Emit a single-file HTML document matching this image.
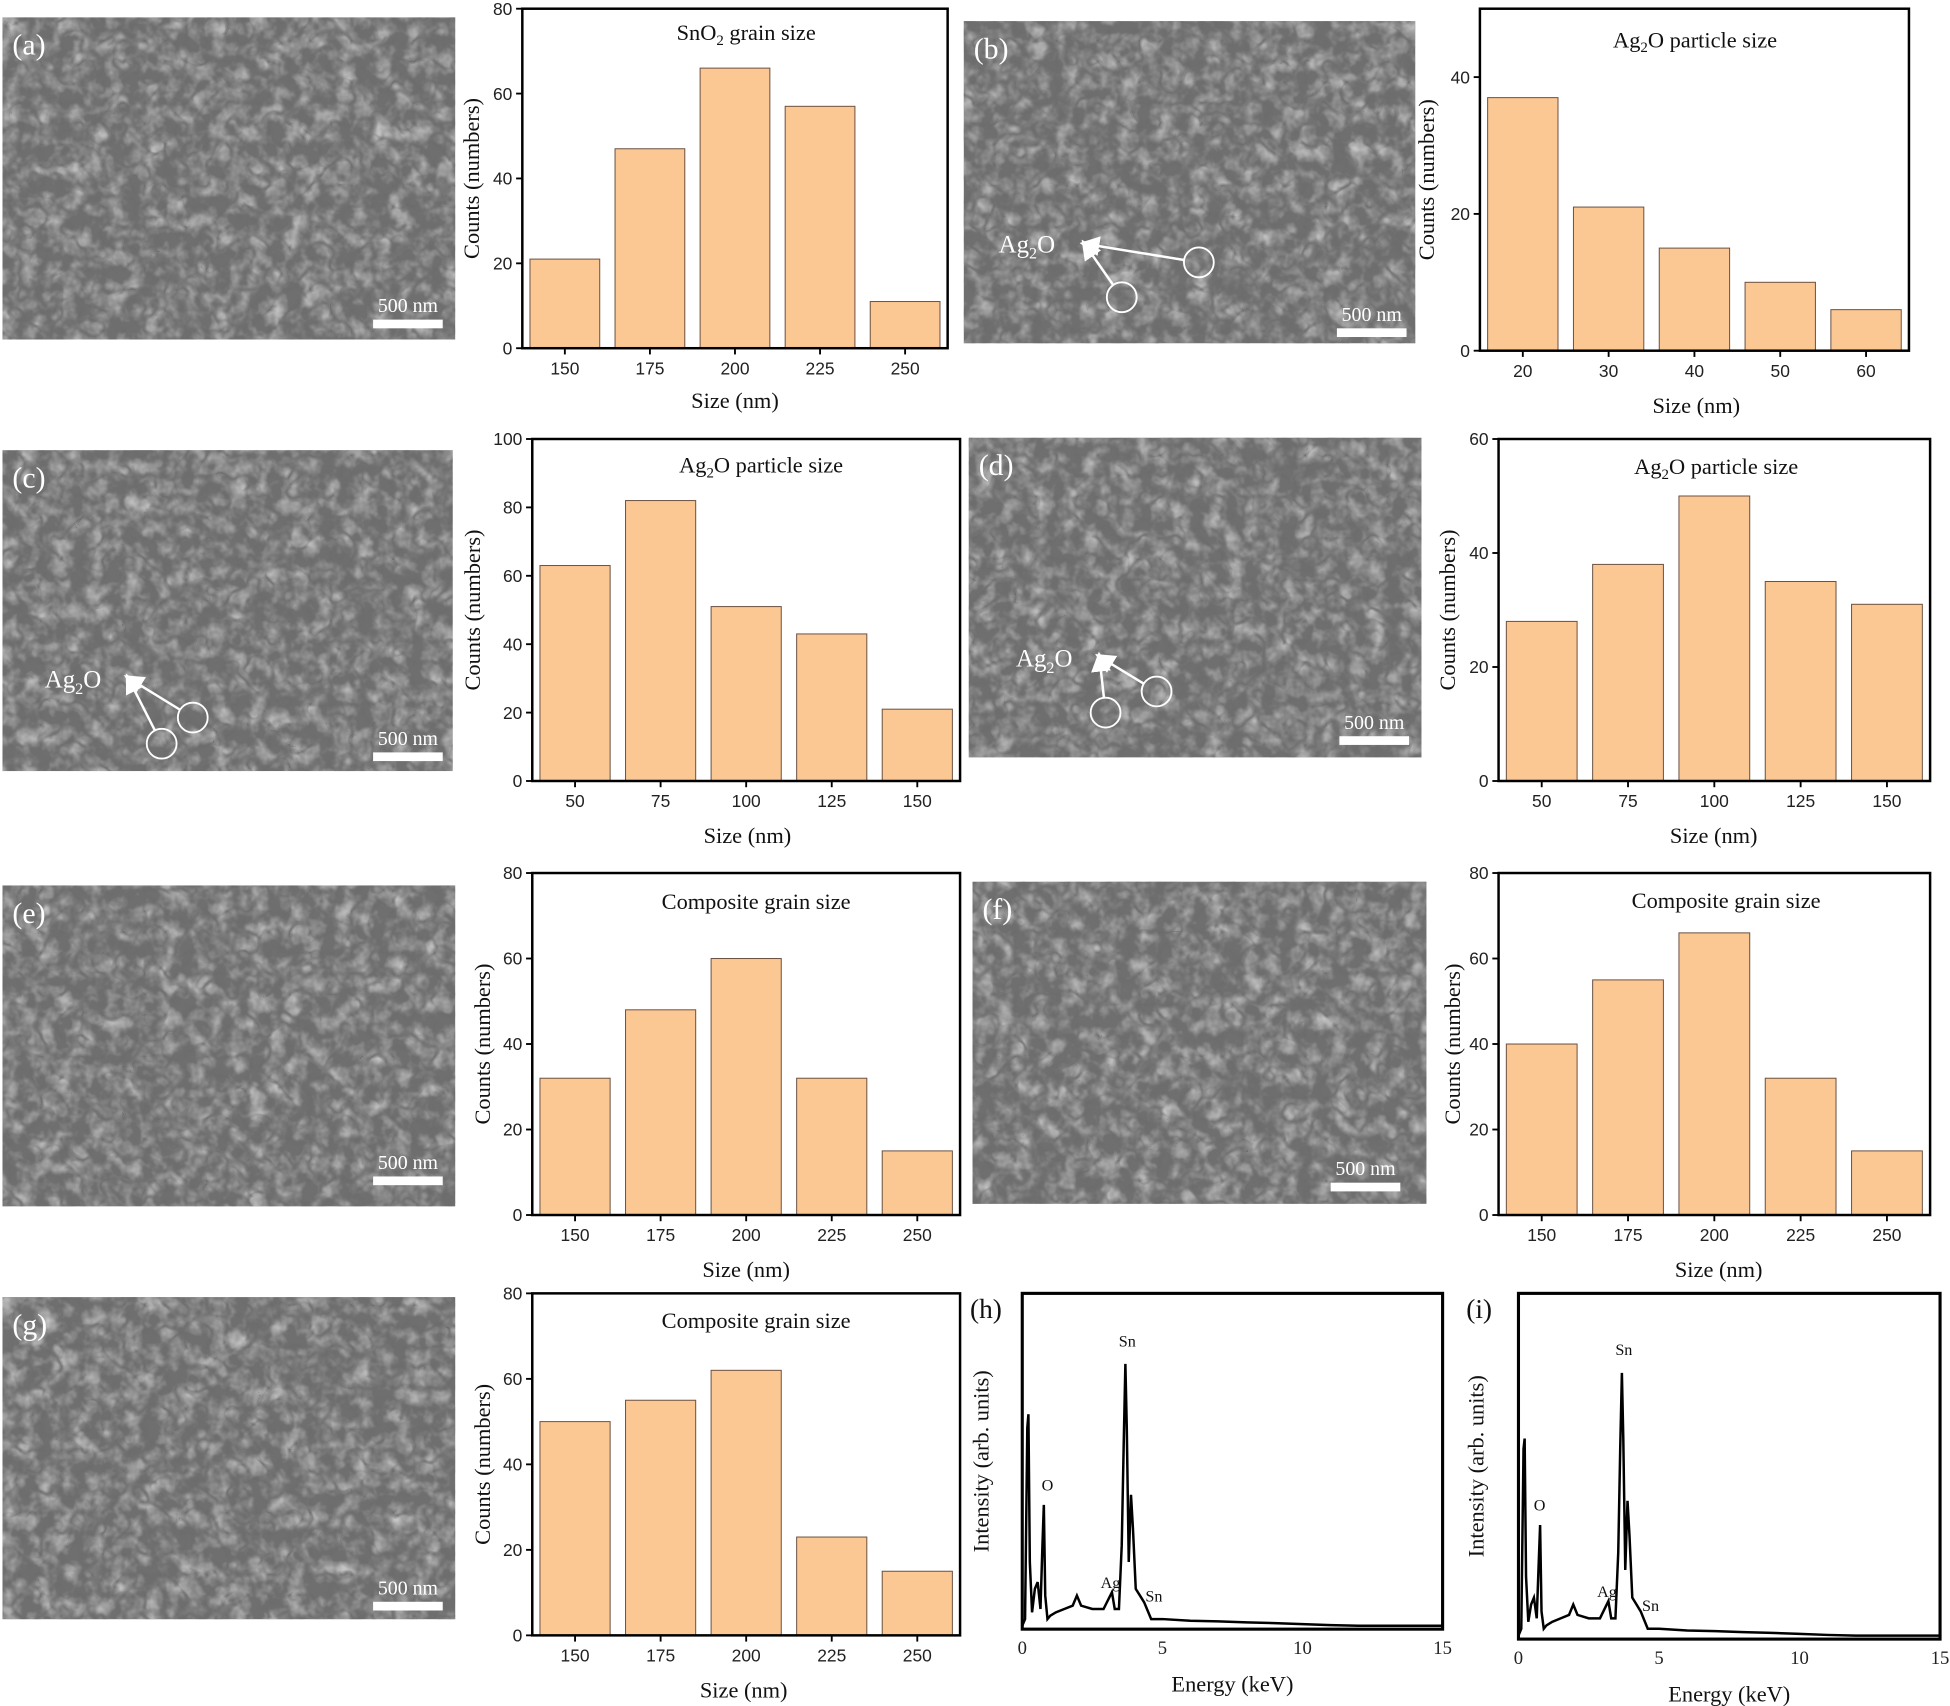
<!DOCTYPE html>
<html><head><meta charset="utf-8"><style>
html,body{margin:0;padding:0;background:#fff;}
svg{display:block;}
.tk{font-family:"Liberation Sans",sans-serif;font-size:14px;fill:#222;}
.lb{font-family:"Liberation Serif",serif;font-size:18px;fill:#111;}
.sem{font-family:"Liberation Serif",serif;fill:#fff;}
</style></head><body>
<svg id="fig" width="1950" height="1706" viewBox="0 0 1568 1371.8" xmlns="http://www.w3.org/2000/svg">
<defs>
<filter id="grain" x="0" y="0" width="100%" height="100%">
<feTurbulence type="fractalNoise" baseFrequency="0.07" numOctaves="3" seed="3" result="n"/>
<feColorMatrix type="matrix" values="0 0 0 0 0.55  0 0 0 0 0.55  0 0 0 0 0.55  1.8 0 0 0 -0.65" in="n" result="m"/>
<feComposite in="m" in2="SourceGraphic" operator="in"/>
</filter>
<filter id="dark" x="0" y="0" width="100%" height="100%">
<feTurbulence type="turbulence" baseFrequency="0.06" numOctaves="2" seed="7" result="n"/>
<feColorMatrix type="matrix" values="0 0 0 0 0.15  0 0 0 0 0.15  0 0 0 0 0.15  -3 0 0 0 0.9" in="n" result="m"/>
<feComposite in="m" in2="SourceGraphic" operator="in"/>
</filter>
<marker id="ah" markerWidth="8" markerHeight="8" refX="6" refY="4" orient="auto"><path d="M0,0 L8,4 L0,8 z" fill="#fff"/></marker>
</defs>
<g id="root"></g>
</svg>
<script>
const NS="http://www.w3.org/2000/svg";
const root=document.getElementById('root');
function mk(tag,attrs,parent,text){const e=document.createElementNS(NS,tag);for(const k in attrs)e.setAttribute(k,attrs[k]);if(text!==undefined)e.textContent=text;(parent||root).appendChild(e);return e;}

// ---- histogram data ----
const catsA=["150","175","200","225","250"]; const valsA=[21,47,66,57,11]; const ticksA=[0,20,40,60,80];
const catsB=["20","30","40","50","60"]; const valsB=[37,21,15,10,6]; const ticksB=[0,20,40];
const catsC=["50","75","100","125","150"]; const valsC=[63,82,51,43,21]; const ticksC=[0,20,40,60,80,100];
const catsD=["50","75","100","125","150"]; const valsD=[28,38,50,35,31]; const ticksD=[0,20,40,60];
const catsE=["150","175","200","225","250"]; const valsE=[32,48,60,32,15]; const ticksE=[0,20,40,60,80];
const catsF=["150","175","200","225","250"]; const valsF=[40,55,66,32,15]; const ticksF=[0,20,40,60,80];
const catsG=["150","175","200","225","250"]; const valsG=[50,55,62,23,15]; const ticksG=[0,20,40,60,80];
// ---- EDS spectra data (energy keV, intensity %) ----
const energyH=[0,0.1,0.18,0.22,0.27,0.35,0.45,0.55,0.65,0.72,0.77,0.82,0.9,1.0,1.2,1.5,1.8,1.95,2.1,2.5,2.9,3.2,3.3,3.45,3.55,3.62,3.68,3.73,3.8,3.88,3.95,4.05,4.2,4.35,4.45,4.6,5,6,7,8,9,10,11,12,13,15];
const intensityH=[1,3,60,64,20,5,12,14,6,25,37,10,3,4,5,6,7,10,7,6,6,11,6,6,25,55,79,60,20,40,30,12,10,8,6,3,3,2.5,2.3,2,1.8,1.5,1.2,1,1,1];
const energyI=[0,0.1,0.18,0.22,0.27,0.35,0.45,0.55,0.65,0.72,0.77,0.82,0.9,1.0,1.2,1.5,1.8,1.95,2.1,2.5,2.9,3.2,3.3,3.45,3.55,3.62,3.68,3.73,3.8,3.88,3.95,4.05,4.2,4.35,4.45,4.6,5,6,7,8,9,10,11,12,13,15];
const intensityI=[1,3,55,58,18,5,10,12,6,22,33,8,3,4,5,6,7,10,7,6,6,11,6,6,25,55,77,58,20,40,30,12,10,8,6,3,3,2.5,2.3,2,1.8,1.5,1.2,1,1,1];

function hist(id,x0,x1,y0,y1,ymax,cats,vals,ticks,title,titleSub,titleX,titleY,xlabX,xlabY,ylabX){
  const g=mk('g',{});
  
  
  const n=cats.length, step=(x1-x0)/n, bw=step*0.82;
  const sx=i=>x0+step*(i+0.5);
  const sy=v=>y1-(y1-y0)*v/ymax;
  vals.forEach((v,i)=>{
    const r=mk('rect',{x:sx(i)-bw/2,y:sy(v),width:bw,height:y1-sy(v),fill:'#fbc793',stroke:'#6b5040','stroke-width':0.8},g);
    
    
  });
  const f=mk('rect',{x:x0,y:y0,width:x1-x0,height:y1-y0,fill:'none',stroke:'#000','stroke-width':2},g);
  
  
  ticks.forEach(t=>{
    mk('line',{x1:x0-5,x2:x0,y1:sy(t),y2:sy(t),stroke:'#000','stroke-width':1.5},g);
    const tl=mk('text',{x:x0-8,y:sy(t)+5,'text-anchor':'end',class:'tk'},g,String(t));
    
    
  });
  cats.forEach((c,i)=>{
    mk('line',{x1:sx(i),x2:sx(i),y1:y1,y2:y1+5,stroke:'#000','stroke-width':1.5},g);
    const tl=mk('text',{x:sx(i),y:y1+21,'text-anchor':'middle',class:'tk'},g,c);
    
    
  });
  const t=mk('text',{x:titleX,y:titleY,'text-anchor':'middle',class:'lb'},g);
  
  
  t.innerHTML=title[0]+'<tspan font-size="12" dy="4">'+titleSub+'</tspan><tspan dy="-4">'+title[1]+'</tspan>';
  const xl=mk('text',{x:xlabX,y:xlabY,'text-anchor':'middle',class:'lb'},g,'Size (nm)');
  
  
  const yc=(y0+y1)/2;
  const yl=mk('text',{x:ylabX,y:yc,'text-anchor':'middle',class:'lb',transform:'rotate(-90 '+ylabX+' '+yc+')'},g,'Counts (numbers)');
  
  
}
function sem(id,x,y,w,h,label,sbX,sbY){
  const g=mk('g',{});
  
  
  mk('rect',{x:x,y:y,width:w,height:h,fill:'#6f6f6f'},g);
  mk('rect',{x:x,y:y,width:w,height:h,fill:'#777',filter:'url(#grain)'},g);
  mk('rect',{x:x,y:y,width:w,height:h,fill:'#777',filter:'url(#dark)'},g);
  const l=mk('text',{x:x+8,y:y+30,class:'sem','font-size':'24'},g,label);
  
  
  mk('rect',{x:sbX,y:sbY,width:56,height:7,fill:'#fff'},g);
  const s=mk('text',{x:sbX+28,y:sbY-6,'text-anchor':'middle',class:'sem','font-size':'16'},g,'500 nm');
  
  
  return g;
}
function ag(g,tx,ty,hx,hy,c1,c2){
  const t=mk('text',{x:tx,y:ty,class:'sem','font-size':'20'},g);
  t.innerHTML='Ag<tspan font-size="13" dy="5">2</tspan><tspan dy="-5">O</tspan>';
  
  
  [c1,c2].forEach(c=>{
    mk('circle',{cx:c[0],cy:c[1],r:12,fill:'none',stroke:'#fff','stroke-width':1.5},g);
    const dx=hx-c[0],dy=hy-c[1],d=Math.hypot(dx,dy);
    mk('line',{x1:c[0]+dx/d*12,y1:c[1]+dy/d*12,x2:hx,y2:hy,stroke:'#fff','stroke-width':2,'marker-end':'url(#ah)'},g);
  });
}
function eds(id,x0,x1,y0,y1,E,I,label,labs,ylab){
  const g=mk('g',{});
  
  
  const sx=e=>x0+(x1-x0)*e/15, sy=v=>y1-(y1-y0)*v/100;
  const p=mk('polyline',{points:E.map((e,i)=>sx(e)+','+sy(I[i])).join(' '),fill:'none',stroke:'#000','stroke-width':2},g);
  
  
  mk('rect',{x:x0,y:y0,width:x1-x0,height:y1-y0,fill:'none',stroke:'#000','stroke-width':2.5},g);
  [0,5,10,15].forEach(t=>{
    const tl=mk('text',{x:sx(t),y:y1+20,'text-anchor':'middle','font-family':'Liberation Serif,serif','font-size':'15',fill:'#222'},g,String(t));
    
    
  });
  const xl=mk('text',{x:(x0+x1)/2,y:y1+50,'text-anchor':'middle',class:'lb'},g,'Energy (keV)');
  
  
  const yc=(y0+y1)/2;
  const yl=mk('text',{x:ylab,y:yc,'text-anchor':'middle',class:'lb',transform:'rotate(-90 '+ylab+' '+yc+')'},g,'Intensity (arb. units)');
  
  
  const pl=mk('text',{x:x0-42,y:y0+20,'font-family':'Liberation Serif,serif','font-size':'22',fill:'#111'},g,label);
  
  
  labs.forEach(l=>{
    const t=mk('text',{x:sx(l[1]),y:sy(l[2])-6,'text-anchor':'middle','font-family':'Liberation Serif,serif','font-size':'13',fill:'#111'},g,l[0]);
    
    
  });
}

// Row 1
sem('a',2,14,364,259,'(a)',300,257);
hist('a',420,762,7,280,80,catsA,valsA,ticksA,['SnO',' grain size'],'2',600,32,591,328,385);
const gb=sem('b',775,17,363,259,'(b)',1075,264);
ag(gb,803,203,872,196,[964,211],[902,239]);
hist('b',1190,1535,7,282,50,catsB,valsB,ticksB,['Ag','O particle size'],'2',1363,38,1364,332,1153);
// Row 2
const gc=sem('c',2,362,362,258,'(c)',300,605);
ag(gc,36,553,103,545,[155,577],[130,598]);
hist('c',428,772,353,628,100,catsC,valsC,ticksC,['Ag','O particle size'],'2',612,380,601,678,386);
const gd=sem('d',779,352,364,257,'(d)',1077,592);
ag(gd,817,536,884,528,[930,556],[889,573]);
hist('d',1205,1552,353,628,60,catsD,valsD,ticksD,['Ag','O particle size'],'2',1380,381,1378,678,1170);
// Row 3
sem('e',2,712,364,258,'(e)',300,946);
hist('e',428,772,702,977,80,catsE,valsE,ticksE,['Composite grain size',''],'',608,731,600,1027,394);
sem('f',782,709,365,259,'(f)',1070,951);
hist('f',1205,1552,702,977,80,catsF,valsF,ticksF,['Composite grain size',''],'',1388,730,1382,1027,1174);
// Row 4
sem('g',2,1043,364,259,'(g)',300,1288);
hist('g',428,772,1040,1315,80,catsG,valsG,ticksG,['Composite grain size',''],'',608,1068,598,1365,394);
eds('h',822,1160,1040,1310,energyH,intensityH,'(h)',[['Sn',3.75,82],['O',0.9,39],['Ag',3.15,10],['Sn',4.7,6]],795);
eds('i',1221,1560,1040,1318,energyI,intensityI,'(i)',[['Sn',3.75,80],['O',0.75,35],['Ag',3.15,10],['Sn',4.7,6]],1193);
</script>
</body></html>
